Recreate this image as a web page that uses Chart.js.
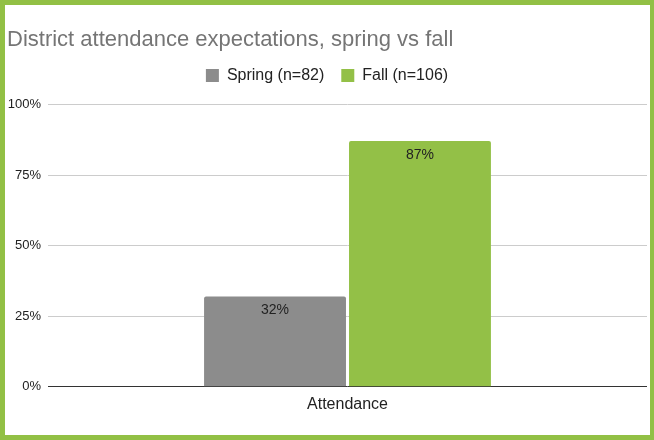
<!DOCTYPE html>
<html>
<head>
<meta charset="utf-8">
<script src="https://cdn.jsdelivr.net/npm/chart.js@4/dist/chart.umd.min.js"></script>
<style>
  html, body { margin: 0; padding: 0; background: #fff; }
  #frame {
    width: 654px; height: 440px; box-sizing: border-box;
    border: 5px solid #92c045; border-right-width: 4px;
    background: #fff;
  }
  #wrap { position: relative; width: 645px; height: 430px; }
</style>
</head>
<body>
<div id="frame"><div id="wrap"><canvas id="chart"></canvas></div></div>
<script>
const categories = ['Attendance'];
const springValues = [32];
const fallValues = [87];
const seriesNames = ['Spring (n=82)', 'Fall (n=106)'];
const yTicks = [0, 25, 50, 75, 100];

// labels inside the top of each bar
const barLabels = {
  id: 'barLabels',
  afterDatasetsDraw(chart) {
    const ctx = chart.ctx;
    ctx.save();
    ctx.font = '14px "Liberation Sans", Arial, sans-serif';
    ctx.fillStyle = '#222';
    ctx.textAlign = 'center';
    ctx.textBaseline = 'middle';
    chart.data.datasets.forEach((ds, di) => {
      chart.getDatasetMeta(di).data.forEach((bar, i) => {
        ctx.fillText(ds.data[i] + '%', bar.x, bar.y + 14);
      });
    });
    ctx.restore();
  }
};

// extra space under the legend
const legendGap = {
  id: 'legendGap',
  beforeLayout(chart) {
    const lg = chart.legend;
    if (!lg || lg._gapPatched) return;
    const fit = lg.fit;
    lg.fit = function () { fit.call(this); this.height += 11; };
    lg._gapPatched = true;
  }
};

const ctx = document.getElementById('chart').getContext('2d');
new Chart(ctx, {
  type: 'bar',
  data: {
    labels: categories,
    datasets: [
      { label: seriesNames[0], data: springValues, backgroundColor: '#8c8c8c' },
      { label: seriesNames[1], data: fallValues, backgroundColor: '#93c047' }
    ]
  },
  options: {
    responsive: true,
    maintainAspectRatio: false,
    animation: false,
    layout: { padding: { left: 2, right: 3, top: 0, bottom: 21 } },
    datasets: {
      bar: {
        categoryPercentage: 0.484,
        barPercentage: 0.979,
        borderRadius: { topLeft: 2, topRight: 2 },
        borderSkipped: 'start'
      }
    },
    scales: {
      x: {
        grid: { display: false },
        border: { display: false },
        ticks: {
          color: '#222',
          padding: 0,
          font: { family: '"Liberation Sans", Arial, sans-serif', size: 16 }
        }
      },
      y: {
        min: 0, max: 100,
        afterBuildTicks: axis => { axis.ticks = yTicks.map(v => ({ value: v })); },
        afterFit: axis => { axis.width = 41; },
        border: { display: false },
        grid: {
          drawTicks: false,
          color: c => c.tick && c.tick.value === 0 ? '#333' : '#cccccc'
        },
        ticks: {
          color: '#222',
          padding: 7,
          font: { family: '"Liberation Sans", Arial, sans-serif', size: 13 },
          callback: v => v + '%'
        }
      }
    },
    plugins: {
      title: {
        display: true,
        text: 'District attendance expectations, spring vs fall',
        align: 'start',
        color: '#757575',
        font: { family: '"Liberation Sans", Arial, sans-serif', size: 22, weight: 'normal' },
        padding: { top: 22, bottom: -3 }
      },
      legend: {
        position: 'top',
        labels: {
          color: '#222',
          boxWidth: 13,
          boxHeight: 13,
          padding: 17,
          font: { family: '"Liberation Sans", Arial, sans-serif', size: 16 }
        }
      },
      tooltip: { enabled: false }
    }
  },
  plugins: [barLabels, legendGap]
});
</script>
</body>
</html>
